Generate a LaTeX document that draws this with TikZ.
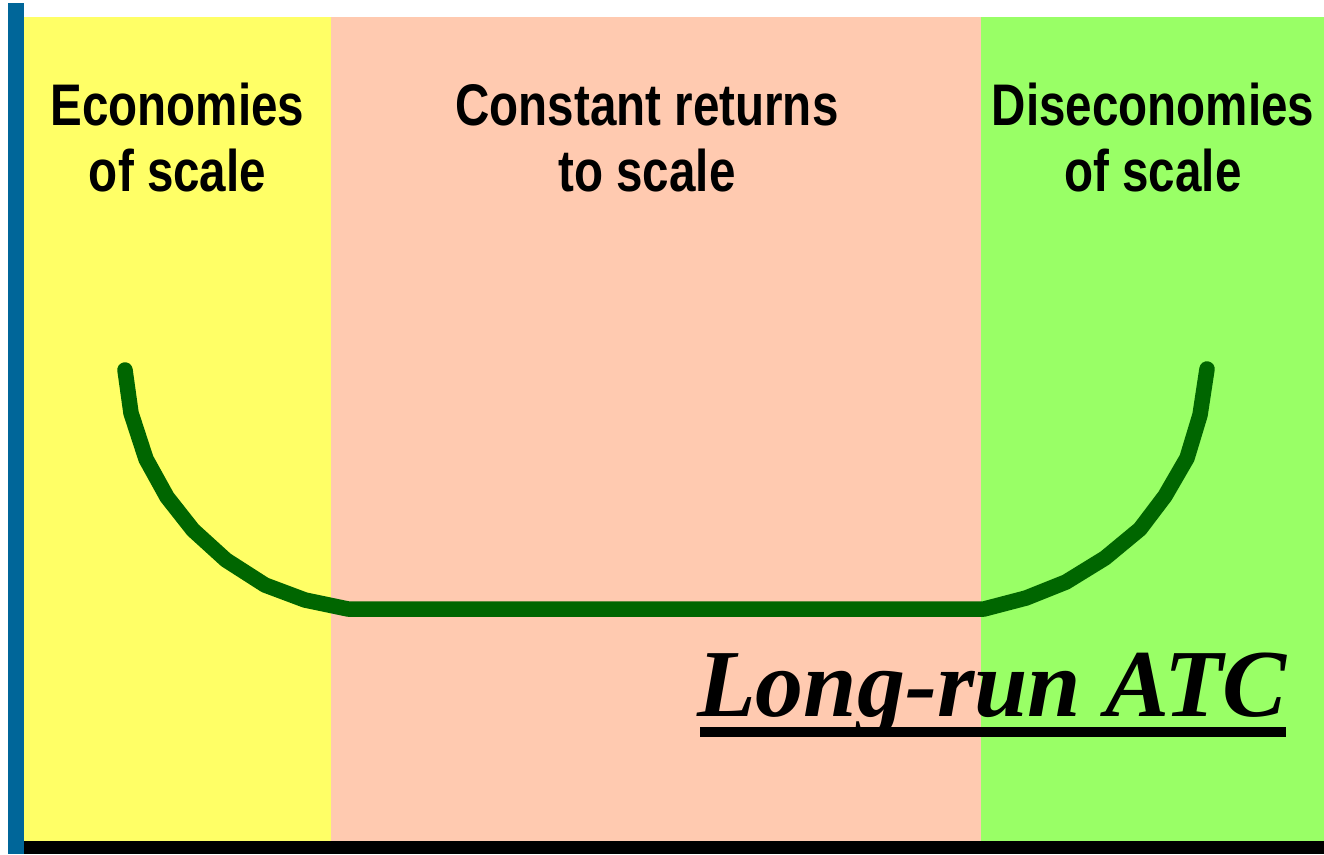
\documentclass[tikz,border=0pt]{standalone}
\usepackage{fontspec}
\newfontfamily\headfont{Liberation Sans}[FakeStretch=0.81]
\newfontfamily\timesf{Liberation Serif}
\definecolor{axisblue}{HTML}{006699}
\definecolor{ecoyellow}{HTML}{FFFF66}
\definecolor{crpink}{HTML}{FFCAB0}
\definecolor{diseco}{HTML}{99FF66}
\definecolor{curvegreen}{HTML}{006600}
\begin{document}
\begin{tikzpicture}[x=1pt,y=-1pt,
  head/.style={anchor=base,inner sep=0pt,font=\headfont\bfseries\fontsize{58.7}{65}\selectfont},
  title/.style={anchor=base west,inner sep=0pt,font=\timesf\bfseries\itshape\fontsize{96}{100}\selectfont},
  curve/.style={draw=curvegreen,line width=15.5pt,line cap=round,line join=round}]
\useasboundingbox (0,0) rectangle (1324,854);
% bands
\fill[ecoyellow] (24,17) rectangle (331,841);
\fill[crpink] (331,17) rectangle (981,841);
\fill[diseco] (981,17) rectangle (1324,841);
% axes
\fill[axisblue] (8,3) rectangle (24,854);
\fill[black] (24,841) rectangle (1324,854);
% labels
\node[head] (eco1) at (177.5,125) {Economies};
\node[head] (eco2) at (177.5,191) {of scale};
\node[head] (cr1) at (647,125) {Constant returns};
\node[head] (cr2) at (647,191) {to scale};
\node[head] (dis1) at (1153,125) {Diseconomies};
\node[head] (dis2) at (1153,191) {of scale};
% curve
\draw[curve] (125,370) -- (131,413) -- (146,459) -- (167,497) -- (193,530)
  -- (226,560) -- (265,585) -- (305,600) -- (348,609) -- (984,609)
  -- (1026,598) -- (1066,582) -- (1105,558) -- (1140,529) -- (1165,496)
  -- (1187,458) -- (1200,415) -- (1207,369);
% title
\node[title] (atc) at (697,716) {Long-run ATC};
\fill[black] (700,727) rectangle (1286,737);
\end{tikzpicture}
\end{document}
